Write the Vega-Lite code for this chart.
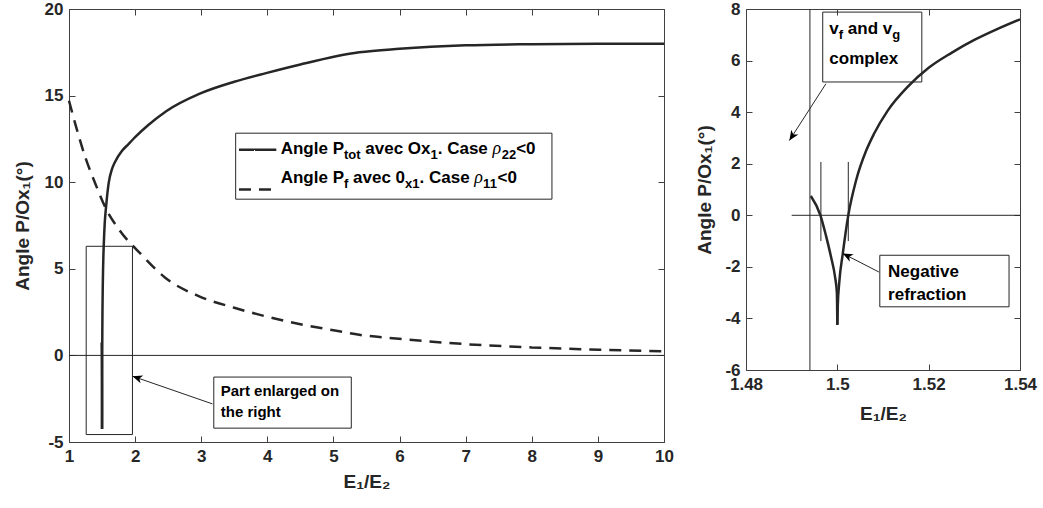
{
  "$schema": "https://vega.github.io/schema/vega-lite/v6.json",
  "background": "white",
  "padding": {"left": 13, "top": 0, "right": 5, "bottom": 5},
  "spacing": 21,
  "config": {
    "view": {"stroke": null},
    "font": "Liberation Sans",
    "axis": {
      "labelFont": "Liberation Sans", "labelFontWeight": "bold", "labelFontSize": 17, "labelColor": "#262626",
      "titleFont": "Liberation Sans", "titleFontWeight": "bold", "titleFontSize": 19, "titleColor": "#262626",
      "domainColor": "#404040", "tickColor": "#404040", "tickSize": -6, "grid": false,
      "labelPadding": 12, "labelOverlap": false, "labelFlush": false, "labelExpr": "'' + datum.value"
    }
  },
  "datasets": {
    "ptot": [
      {"branch": "a", "x": 1.4942, "y": 0.75},
      {"branch": "a", "x": 1.4963, "y": 0},
      {"branch": "a", "x": 1.4975, "y": -0.78},
      {"branch": "a", "x": 1.4986, "y": -1.6},
      {"branch": "a", "x": 1.4995, "y": -2.39},
      {"branch": "a", "x": 1.4999, "y": -3.0},
      {"branch": "a", "x": 1.5, "y": -4.25},
      {"branch": "b", "x": 1.5, "y": -4.25},
      {"branch": "b", "x": 1.5001, "y": -3.5},
      {"branch": "b", "x": 1.5004, "y": -2.65},
      {"branch": "b", "x": 1.5012, "y": -1.48},
      {"branch": "b", "x": 1.5024, "y": 0},
      {"branch": "b", "x": 1.5041, "y": 1.35},
      {"branch": "b", "x": 1.5063, "y": 2.5},
      {"branch": "b", "x": 1.508, "y": 3.15},
      {"branch": "b", "x": 1.511, "y": 4.05},
      {"branch": "b", "x": 1.5155, "y": 5.0},
      {"branch": "b", "x": 1.52, "y": 5.72},
      {"branch": "b", "x": 1.525, "y": 6.3},
      {"branch": "b", "x": 1.53, "y": 6.8},
      {"branch": "b", "x": 1.535, "y": 7.22},
      {"branch": "b", "x": 1.54, "y": 7.6},
      {"branch": "b", "x": 1.56, "y": 8.55},
      {"branch": "b", "x": 1.6, "y": 9.95},
      {"branch": "b", "x": 1.65, "y": 10.75},
      {"branch": "b", "x": 1.7, "y": 11.2},
      {"branch": "b", "x": 1.8, "y": 11.8},
      {"branch": "b", "x": 1.9, "y": 12.2},
      {"branch": "b", "x": 2.0, "y": 12.6},
      {"branch": "b", "x": 2.2, "y": 13.3},
      {"branch": "b", "x": 2.47, "y": 14.1},
      {"branch": "b", "x": 2.97, "y": 15.1},
      {"branch": "b", "x": 3.5, "y": 15.8},
      {"branch": "b", "x": 3.98, "y": 16.3},
      {"branch": "b", "x": 4.5, "y": 16.8},
      {"branch": "b", "x": 5.39, "y": 17.5},
      {"branch": "b", "x": 6, "y": 17.7},
      {"branch": "b", "x": 7, "y": 17.9},
      {"branch": "b", "x": 8, "y": 17.97},
      {"branch": "b", "x": 9, "y": 18.0},
      {"branch": "b", "x": 10, "y": 18.0}
    ],
    "pf": [
      {"x": 1, "y": 14.7},
      {"x": 1.1, "y": 13.3},
      {"x": 1.25, "y": 11.4},
      {"x": 1.4, "y": 9.9},
      {"x": 1.555, "y": 8.5},
      {"x": 1.75, "y": 7.3},
      {"x": 2.1, "y": 5.8},
      {"x": 2.46, "y": 4.47},
      {"x": 2.97, "y": 3.41},
      {"x": 3.5, "y": 2.75},
      {"x": 3.98, "y": 2.25},
      {"x": 4.5, "y": 1.8},
      {"x": 5, "y": 1.45},
      {"x": 5.39, "y": 1.19},
      {"x": 5.99, "y": 0.96},
      {"x": 7, "y": 0.65},
      {"x": 8, "y": 0.46},
      {"x": 9.02, "y": 0.33},
      {"x": 10, "y": 0.23}
    ],
    "segL": [
      {"x": 1, "y": 0, "x2": 10, "y2": 0},
      {"x": 3.17, "y": -2.8, "x2": 1.96, "y2": -1.2}
    ],
    "boxL": [
      {"x": 1.26, "x2": 1.96, "y": 6.3, "y2": -4.57},
      {"x": 3.19, "x2": 5.27, "y": -1.25, "y2": -4.2},
      {"x": 3.521, "x2": 8.305, "y": 12.83, "y2": 9.02}
    ],
    "legendSamples": [
      {"style": "solid", "x": 3.571, "x2": 4.136, "y": 11.88},
      {"style": "dashed", "x": 3.571, "x2": 4.136, "y": 9.58}
    ],
    "headL": [{"x": 1.96, "y": -1.2}],
    "textL": [
      {"x": 4.202, "y": 11.6, "text": "Angle P", "kind": "main"},
      {"x": 5.16, "y": 11.6, "text": "tot", "kind": "sub"},
      {"x": 5.482, "y": 11.6, "text": "avec Ox", "kind": "main"},
      {"x": 6.468, "y": 11.6, "text": "1", "kind": "sub"},
      {"x": 6.577, "y": 11.6, "text": ". Case", "kind": "main"},
      {"x": 7.406, "y": 11.6, "text": "ρ", "kind": "greek"},
      {"x": 7.545, "y": 11.6, "text": "22", "kind": "sub"},
      {"x": 7.764, "y": 11.6, "text": "<0", "kind": "main"},
      {"x": 4.202, "y": 9.96, "text": "Angle P", "kind": "main"},
      {"x": 5.16, "y": 9.96, "text": "f", "kind": "sub"},
      {"x": 5.296, "y": 9.96, "text": "avec 0", "kind": "main"},
      {"x": 6.082, "y": 9.96, "text": "x1", "kind": "sub"},
      {"x": 6.302, "y": 9.96, "text": ". Case", "kind": "main"},
      {"x": 7.13, "y": 9.96, "text": "ρ", "kind": "greek"},
      {"x": 7.264, "y": 9.96, "text": "11", "kind": "sub"},
      {"x": 7.483, "y": 9.96, "text": "<0", "kind": "main"},
      {"x": 3.295, "y": -2.37, "text": "Part enlarged on", "kind": "note"},
      {"x": 3.295, "y": -3.53, "text": "the right", "kind": "note"}
    ],
    "segR": [
      {"x": 1.49, "y": 0, "x2": 1.54, "y2": 0},
      {"x": 1.494, "y": -6, "x2": 1.494, "y2": 8},
      {"x": 1.4964, "y": -1.0, "x2": 1.4964, "y2": 2.07},
      {"x": 1.5024, "y": -1.0, "x2": 1.5024, "y2": 2.07},
      {"x": 1.4975, "y": 5.1, "x2": 1.4895, "y2": 2.9},
      {"x": 1.5091, "y": -2.2, "x2": 1.5012, "y2": -1.48}
    ],
    "boxR": [
      {"x": 1.4968, "x2": 1.5185, "y": 7.88, "y2": 5.17},
      {"x": 1.5093, "x2": 1.5376, "y": -1.55, "y2": -3.55}
    ],
    "headR1": [{"x": 1.4895, "y": 2.9}],
    "headR2": [{"x": 1.5012, "y": -1.48}],
    "textR": [
      {"x": 1.49824, "y": 7.04, "text": "v", "kind": "main"},
      {"x": 1.50031, "y": 7.04, "text": "f", "kind": "sub"},
      {"x": 1.50229, "y": 7.04, "text": "and v", "kind": "main"},
      {"x": 1.51201, "y": 7.04, "text": "g", "kind": "sub"},
      {"x": 1.49824, "y": 5.88, "text": "complex", "kind": "main"},
      {"x": 1.51111, "y": -2.39, "text": "Negative", "kind": "main"},
      {"x": 1.51111, "y": -3.29, "text": "refraction", "kind": "main"}
    ]
  },
  "hconcat": [
    {
      "width": 595,
      "height": 433,
      "resolve": {"axis": {"x": "independent", "y": "independent"}},
      "layer": [
        {
          "data": {"name": "segL"},
          "mark": {"type": "rule", "color": "#262626", "strokeWidth": 1},
          "encoding": {
            "x": {"field": "x", "type": "quantitative", "scale": {"domain": [1, 10], "nice": false, "zero": false},
                  "axis": {"values": [1, 2, 3, 4, 5, 6, 7, 8, 9, 10], "title": "E₁/E₂", "titlePadding": 8, "labelFlush": false}},
            "y": {"field": "y", "type": "quantitative", "scale": {"domain": [-5, 20], "nice": false, "zero": false},
                  "axis": {"values": [-5, 0, 5, 10, 15, 20], "title": "Angle P/Ox₁(°)", "titlePadding": 12, "labelFlush": false}},
            "x2": {"field": "x2"},
            "y2": {"field": "y2"}
          }
        },
        {
          "data": {"name": "segL"},
          "mark": {"type": "rule", "opacity": 0},
          "encoding": {
            "x": {"field": "x", "type": "quantitative", "scale": {"domain": [1, 10], "nice": false, "zero": false},
                  "axis": {"orient": "top", "values": [1, 2, 3, 4, 5, 6, 7, 8, 9, 10], "labels": false, "title": null}},
            "y": {"field": "y", "type": "quantitative", "scale": {"domain": [-5, 20], "nice": false, "zero": false},
                  "axis": {"orient": "right", "values": [-5, 0, 5, 10, 15, 20], "labels": false, "title": null}},
            "x2": {"field": "x2"},
            "y2": {"field": "y2"}
          }
        },
        {
          "data": {"name": "boxL"},
          "mark": {"type": "rect", "filled": false, "color": "#262626", "strokeWidth": 1},
          "encoding": {
            "x": {"field": "x", "type": "quantitative", "axis": null},
            "x2": {"field": "x2"},
            "y": {"field": "y", "type": "quantitative", "axis": null},
            "y2": {"field": "y2"}
          }
        },
        {
          "data": {"name": "ptot"},
          "mark": {"type": "line", "color": "#262626", "strokeWidth": 2.5, "interpolate": "monotone"},
          "encoding": {
            "x": {"field": "x", "type": "quantitative", "axis": null},
            "y": {"field": "y", "type": "quantitative", "axis": null},
            "detail": {"field": "branch", "type": "nominal"}
          }
        },
        {
          "data": {"name": "pf"},
          "mark": {"type": "line", "color": "#262626", "strokeWidth": 2.5, "interpolate": "monotone", "strokeDash": [12, 8]},
          "encoding": {
            "x": {"field": "x", "type": "quantitative", "axis": null},
            "y": {"field": "y", "type": "quantitative", "axis": null}
          }
        },
        {
          "data": {"name": "legendSamples"},
          "mark": {"type": "rule", "color": "#262626", "strokeWidth": 2.5},
          "encoding": {
            "x": {"field": "x", "type": "quantitative", "axis": null},
            "x2": {"field": "x2"},
            "y": {"field": "y", "type": "quantitative", "axis": null},
            "strokeDash": {"field": "style", "type": "nominal", "scale": {"domain": ["solid", "dashed"], "range": [[1, 0], [12, 8]]}, "legend": null}
          }
        },
        {
          "data": {"name": "headL"},
          "mark": {"type": "point", "shape": "M0,0L-1,-0.42L-0.72,0L-1,0.42Z", "filled": true, "color": "#000000", "opacity": 1, "size": 400, "angle": 198.7},
          "encoding": {
            "x": {"field": "x", "type": "quantitative", "axis": null},
            "y": {"field": "y", "type": "quantitative", "axis": null}
          }
        },
        {
          "data": {"name": "textL"},
          "transform": [{"filter": "datum.kind == 'main'"}],
          "mark": {"type": "text", "align": "left", "baseline": "alphabetic", "font": "Liberation Sans", "fontWeight": "bold", "fontSize": 17, "color": "#000000"},
          "encoding": {
            "x": {"field": "x", "type": "quantitative", "axis": null},
            "y": {"field": "y", "type": "quantitative", "axis": null},
            "text": {"field": "text"}
          }
        },
        {
          "data": {"name": "textL"},
          "transform": [{"filter": "datum.kind == 'note'"}],
          "mark": {"type": "text", "align": "left", "baseline": "alphabetic", "font": "Liberation Sans", "fontWeight": "bold", "fontSize": 15, "color": "#000000"},
          "encoding": {
            "x": {"field": "x", "type": "quantitative", "axis": null},
            "y": {"field": "y", "type": "quantitative", "axis": null},
            "text": {"field": "text"}
          }
        },
        {
          "data": {"name": "textL"},
          "transform": [{"filter": "datum.kind == 'sub'"}],
          "mark": {"type": "text", "align": "left", "baseline": "alphabetic", "font": "Liberation Sans", "fontWeight": "bold", "fontSize": 13, "dy": 5, "color": "#000000"},
          "encoding": {
            "x": {"field": "x", "type": "quantitative", "axis": null},
            "y": {"field": "y", "type": "quantitative", "axis": null},
            "text": {"field": "text"}
          }
        },
        {
          "data": {"name": "textL"},
          "transform": [{"filter": "datum.kind == 'greek'"}],
          "mark": {"type": "text", "align": "left", "baseline": "alphabetic", "font": "Liberation Serif", "fontStyle": "italic", "fontSize": 18, "color": "#000000"},
          "encoding": {
            "x": {"field": "x", "type": "quantitative", "axis": null},
            "y": {"field": "y", "type": "quantitative", "axis": null},
            "text": {"field": "text"}
          }
        }
      ]
    },
    {
      "width": 274,
      "height": 361,
      "resolve": {"axis": {"x": "independent", "y": "independent"}},
      "layer": [
        {
          "data": {"name": "segR"},
          "mark": {"type": "rule", "color": "#262626", "strokeWidth": 1},
          "encoding": {
            "x": {"field": "x", "type": "quantitative", "scale": {"domain": [1.48, 1.54], "nice": false, "zero": false},
                  "axis": {"values": [1.48, 1.5, 1.52, 1.54], "title": "E₁/E₂", "titlePadding": 12, "labelFlush": false}},
            "y": {"field": "y", "type": "quantitative", "scale": {"domain": [-6, 8], "nice": false, "zero": false},
                  "axis": {"values": [-6, -4, -2, 0, 2, 4, 6, 8], "title": "Angle P/Ox₁(°)", "titlePadding": 10, "labelFlush": false}},
            "x2": {"field": "x2"},
            "y2": {"field": "y2"}
          }
        },
        {
          "data": {"name": "segR"},
          "mark": {"type": "rule", "opacity": 0},
          "encoding": {
            "x": {"field": "x", "type": "quantitative", "scale": {"domain": [1.48, 1.54], "nice": false, "zero": false},
                  "axis": {"orient": "top", "values": [1.48, 1.5, 1.52, 1.54], "labels": false, "title": null}},
            "y": {"field": "y", "type": "quantitative", "scale": {"domain": [-6, 8], "nice": false, "zero": false},
                  "axis": {"orient": "right", "values": [-6, -4, -2, 0, 2, 4, 6, 8], "labels": false, "title": null}},
            "x2": {"field": "x2"},
            "y2": {"field": "y2"}
          }
        },
        {
          "data": {"name": "boxR"},
          "mark": {"type": "rect", "filled": false, "color": "#262626", "strokeWidth": 1},
          "encoding": {
            "x": {"field": "x", "type": "quantitative", "axis": null},
            "x2": {"field": "x2"},
            "y": {"field": "y", "type": "quantitative", "axis": null},
            "y2": {"field": "y2"}
          }
        },
        {
          "data": {"name": "ptot"},
          "transform": [{"filter": "datum.x <= 1.54"}],
          "mark": {"type": "line", "color": "#262626", "strokeWidth": 2.5, "interpolate": "monotone"},
          "encoding": {
            "x": {"field": "x", "type": "quantitative", "axis": null},
            "y": {"field": "y", "type": "quantitative", "axis": null},
            "detail": {"field": "branch", "type": "nominal"}
          }
        },
        {
          "data": {"name": "headR1"},
          "mark": {"type": "point", "shape": "M0,0L-1,-0.42L-0.72,0L-1,0.42Z", "filled": true, "color": "#000000", "opacity": 1, "size": 400, "angle": 122.9},
          "encoding": {
            "x": {"field": "x", "type": "quantitative", "axis": null},
            "y": {"field": "y", "type": "quantitative", "axis": null}
          }
        },
        {
          "data": {"name": "headR2"},
          "mark": {"type": "point", "shape": "M0,0L-1,-0.42L-0.72,0L-1,0.42Z", "filled": true, "color": "#000000", "opacity": 1, "size": 400, "angle": 207.3},
          "encoding": {
            "x": {"field": "x", "type": "quantitative", "axis": null},
            "y": {"field": "y", "type": "quantitative", "axis": null}
          }
        },
        {
          "data": {"name": "textR"},
          "transform": [{"filter": "datum.kind == 'main'"}],
          "mark": {"type": "text", "align": "left", "baseline": "alphabetic", "font": "Liberation Sans", "fontWeight": "bold", "fontSize": 17, "color": "#000000"},
          "encoding": {
            "x": {"field": "x", "type": "quantitative", "axis": null},
            "y": {"field": "y", "type": "quantitative", "axis": null},
            "text": {"field": "text"}
          }
        },
        {
          "data": {"name": "textR"},
          "transform": [{"filter": "datum.kind == 'sub'"}],
          "mark": {"type": "text", "align": "left", "baseline": "alphabetic", "font": "Liberation Sans", "fontWeight": "bold", "fontSize": 13, "dy": 5, "color": "#000000"},
          "encoding": {
            "x": {"field": "x", "type": "quantitative", "axis": null},
            "y": {"field": "y", "type": "quantitative", "axis": null},
            "text": {"field": "text"}
          }
        }
      ]
    }
  ]
}
